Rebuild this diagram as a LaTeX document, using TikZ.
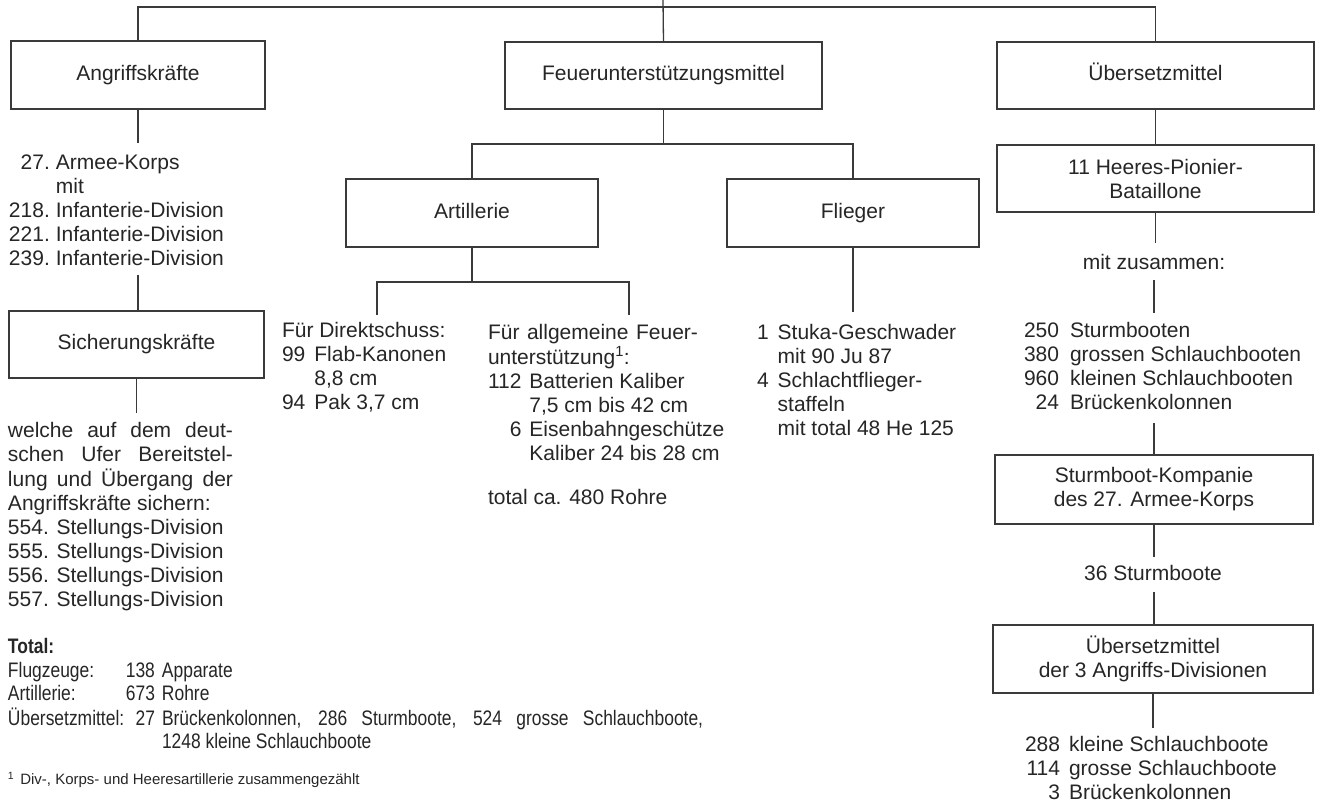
\documentclass[tikz,border=0pt]{standalone}
\usepackage{fontspec}
\setmainfont{Liberation Sans}
\usepackage{array}
\usepackage{graphicx}
\definecolor{ink}{HTML}{262626}
\definecolor{rule}{HTML}{3A3A3A}
\newcommand{\fnmark}{\textsuperscript{1}}
\begin{document}
\begin{tikzpicture}[x=1pt,y=-1pt,
  every node/.style={inner sep=0pt,outer sep=0pt,text=ink,font=\fontsize{21}{24}\selectfont},
  unit/.style={draw=rule,line width=1.4pt,align=center},
  oneline/.style={text height=15pt,text depth=4.5pt},
  link/.style={draw=rule,line width=1.3pt},
  lines/.style={anchor=base west},
  narrow/.style={font=\fontsize{21}{23.5}\selectfont},
]
\useasboundingbox[fill=white] (0,0) rectangle (1320,802);

% --- boxes ---
\node[unit,oneline,minimum width=254pt,minimum height=68pt] (ang)  at (138,75)     {Angriffskräfte};
\node[unit,oneline,minimum width=317pt,minimum height=67pt] (feu)  at (663.5,75.5) {Feuerunterstützungsmittel};
\node[unit,oneline,minimum width=317pt,minimum height=67pt] (ueb)  at (1155.5,75.5){Übersetzmittel};
\node[unit,oneline,minimum width=252pt,minimum height=68pt] (art)  at (472,213)    {Artillerie};
\node[unit,oneline,minimum width=252pt,minimum height=68pt] (fli)  at (853,213)    {Flieger};
\node[unit,oneline,minimum width=255pt,minimum height=67pt] (sich) at (136.5,344.5){Sicherungskräfte};
\node[unit,minimum width=317pt,minimum height=67pt] (hee)  at (1155.5,178.5){11 Heeres-Pionier-\\Bataillone};
\node[unit,minimum width=318pt,minimum height=69pt] (stu)  at (1154,489.5) {Sturmboot-Kompanie\\des 27. Armee-Korps};
\node[unit,minimum width=320pt,minimum height=68pt] (ueb2) at (1153,659)   {Übersetzmittel\\der 3 Angriffs-Divisionen};

% --- text blocks ---
\node[lines] (angList) at (9,169.5) {\begin{tabular}[t]{@{}r@{\hspace{6pt}}l@{}}
27. & Armee-Korps\\
    & mit\\
218. & Infanterie-Division\\
221. & Infanterie-Division\\
239. & Infanterie-Division
\end{tabular}};

\node[lines] (sichList) at (8,437.5) {\begin{tabular}[t]{@{}l@{}}
\makebox[225pt][s]{welche auf dem deut-}\\
\makebox[225pt][s]{schen Ufer Bereitstel-}\\
\makebox[225pt][s]{lung und Übergang der}\\
Angriffskräfte sichern:\\
554. Stellungs-Division\\
555. Stellungs-Division\\
556. Stellungs-Division\\
557. Stellungs-Division
\end{tabular}};

\node[lines] (direkt) at (282,337.5) {\begin{tabular}[t]{@{}r@{\hspace{9pt}}l@{}}
\multicolumn{2}{@{}l@{}}{Für Direktschuss:}\\
99 & Flab-Kanonen\\
   & 8,8 cm\\
94 & Pak 3,7 cm
\end{tabular}};

\node[lines] (allg) at (488,339.5) {\begin{tabular}[t]{@{}r@{\hspace{8pt}}l@{}}
\multicolumn{2}{@{}l@{}}{\makebox[210pt][s]{Für allgemeine Feuer-}}\\
\multicolumn{2}{@{}l@{}}{unterstützung\fnmark:}\\
112 & Batterien Kaliber\\
    & 7,5 cm bis 42 cm\\
6   & Eisenbahngeschütze\\
    & Kaliber 24 bis 28 cm
\end{tabular}};
\node[lines] (rohre) at (488,504.5) {total ca. 480 Rohre};

\node[lines] (flList) at (757,339.5) {\begin{tabular}[t]{@{}r@{\hspace{9pt}}l@{}}
1 & Stuka-Geschwader\\
  & mit 90 Ju 87\\
4 & Schlachtflieger-\\
  & staffeln\\
  & mit total 48 He 125
\end{tabular}};

\node[anchor=base] (zus) at (1154,269.5) {mit zusammen:};

\node[lines] (boote) at (1024,337.5) {\begin{tabular}[t]{@{}r@{\hspace{11pt}}l@{}}
250 & Sturmbooten\\
380 & grossen Schlauchbooten\\
960 & kleinen Schlauchbooten\\
24  & Brückenkolonnen
\end{tabular}};

\node[anchor=base] (sb36) at (1153,580.5) {36 Sturmboote};

\node[lines] (divBoote) at (1025,751.5) {\begin{tabular}[t]{@{}r@{\hspace{9pt}}l@{}}
288 & kleine Schlauchboote\\
114 & grosse Schlauchboote\\
3   & Brückenkolonnen
\end{tabular}};

% totals, set in a condensed cut
\node[lines,narrow] (total) at (8,653.5) {\scalebox{0.83}[1]{\begin{tabular}[t]{@{}l@{\hspace{2pt}}r@{\hspace{8.5pt}}l@{}}
\multicolumn{3}{@{}l@{}}{\textbf{Total:}}\\
Flugzeuge: & 138 & Apparate\\
Artillerie: & 673 & Rohre\\
Übersetzmittel: & 27 & \makebox[652pt][s]{Brückenkolonnen, 286 Sturmboote, 524 grosse Schlauchboote,}\\
 & & 1248 kleine Schlauchboote
\end{tabular}}};

\node[lines,font=\fontsize{15}{18}\selectfont] (note) at (8,784.5)
  {\fnmark\hspace{6pt}Div-, Korps- und Heeresartillerie zusammengezählt};

% --- connectors ---
\coordinate (root)    at (663,0);
\coordinate (bar)     at (663,7);
\coordinate (angEnd)  at (138,143);
\coordinate (sichTop) at (138,275);
\coordinate (sichEnd) at (137,413);
\coordinate (feuJ)    at (663,144);
\coordinate (artJ)    at (473,282);
\coordinate (artL)    at (377,315);
\coordinate (artR)    at (629,315);
\coordinate (fliEnd)  at (853,312);
\coordinate (heeEnd)  at (1155,243);
\coordinate (zusA)    at (1154,280);
\coordinate (zusB)    at (1154,313);
\coordinate (booteEnd) at (1154,423);
\coordinate (stuEnd)  at (1154,557);
\coordinate (sbEnd)   at (1154,592);
\coordinate (ueb2End) at (1153,728);

\draw[link] (root) -- (feu.north);
\draw[link] (ang.north) |- (bar) -| (ueb.north);
\draw[link] (ang.south) -- (ang.south |- angEnd);
\draw[link] (sichTop) -- (sichTop |- sich.north);
\draw[link] (sich.south) -- (sich.south |- sichEnd);
\draw[link] (feu.south) -- (feu.south |- feuJ);
\draw[link] (art.north) |- (feuJ) -| (fli.north);
\draw[link] (art.south) -- (art.south |- artJ);
\draw[link] (artL) |- (artJ) -| (artR);
\draw[link] (fli.south) -- (fli.south |- fliEnd);
\draw[link] (ueb.south) -- (hee.north);
\draw[link] (hee.south) -- (hee.south |- heeEnd);
\draw[link] (zusA) -- (zusB);
\draw[link] (booteEnd) -- (booteEnd |- stu.north);
\draw[link] (stu.south) -- (stu.south |- stuEnd);
\draw[link] (sbEnd) -- (sbEnd |- ueb2.north);
\draw[link] (ueb2.south) -- (ueb2.south |- ueb2End);
\end{tikzpicture}
\end{document}
